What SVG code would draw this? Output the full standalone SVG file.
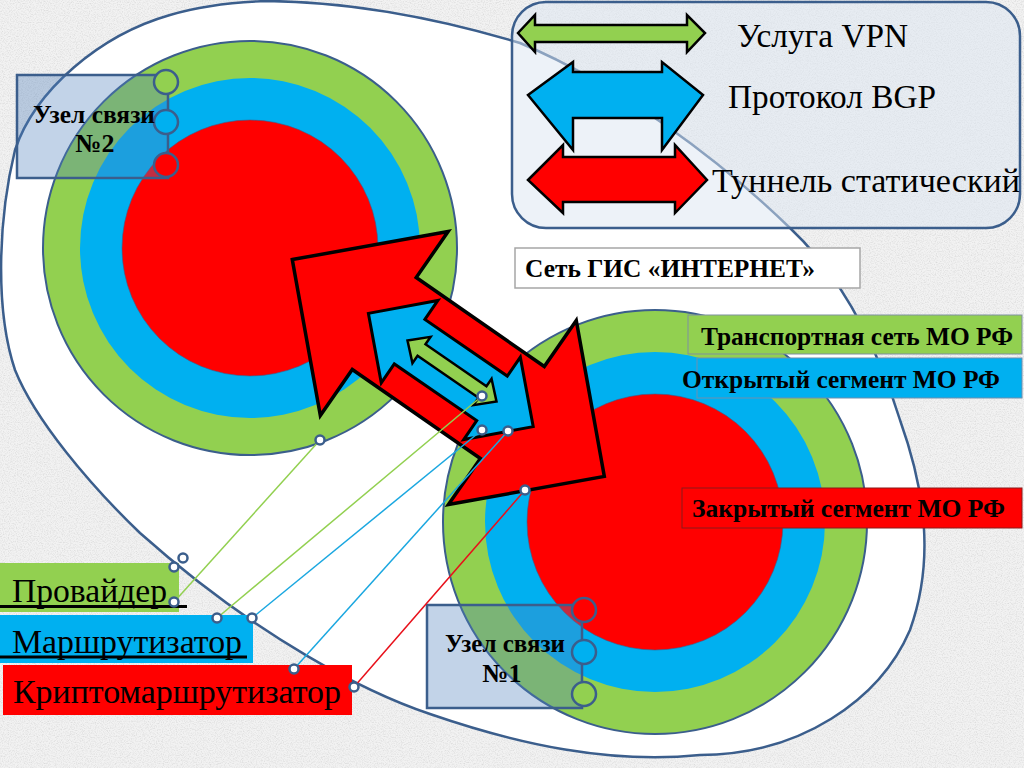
<svg xmlns="http://www.w3.org/2000/svg" width="1024" height="768" viewBox="0 0 1024 768">
<defs>
<filter id="grain" x="0" y="0" width="100%" height="100%">
<feTurbulence type="fractalNoise" baseFrequency="0.85" numOctaves="2" seed="7"/>
<feColorMatrix type="matrix" values="0.7 0 0 0 0.58  0.7 0 0 0 0.58  0.7 0 0 0 0.58  0 0 0 0 1"/>
</filter>
<style>
.t{font-family:'Liberation Serif','Times New Roman',serif;fill:#000}
.b{font-weight:bold}
.ol{stroke:#3b5e8c;stroke-width:2.5}
.arr{stroke:#000;stroke-linejoin:miter}
.dot{fill:#fff;stroke:#3b5e8c;stroke-width:2.5}
.conn{stroke-width:1.5;fill:none}
.g{fill:#92d050}.bl{fill:#00b0f0}.r{fill:#ff0000}
.node{fill:#4f81bd;fill-opacity:0.35;stroke:#3b5e8c;stroke-width:2.5}
</style>
</defs>
<rect x="0" y="0" width="1024" height="768" fill="#e4e4e4"/>
<rect x="0" y="0" width="1024" height="768" filter="url(#grain)" opacity="0.55"/>

<g id="zone">
<path d="M267,1 C360,2 450,22 520,43 C620,85 720,160 790,228 C840,275 875,340 900,420 C925,490 935,560 910,630 C880,700 800,755 700,755 C610,764 520,745 430,714 C370,694 260,640 140,533 C90,485 35,420 15,370 C-5,310 -2,220 15,150 C35,90 100,35 170,15 C200,6 235,2 267,1 Z" fill="#fff" class="ol" stroke-width="3"/>
</g>

<g id="segments-2">
<circle cx="250" cy="248" r="207" class="g" stroke="#3b5e8c" stroke-width="2"/>
<circle cx="250" cy="248" r="170" class="bl"/>
<circle cx="250" cy="248" r="128" class="r" stroke="#3b5e8c" stroke-width="1" stroke-opacity="0.6"/>
</g>
<g id="segments-1">
<circle cx="655" cy="522" r="212" class="g" stroke="#3b5e8c" stroke-width="2"/>
<circle cx="655" cy="522" r="170" class="bl"/>
<circle cx="655" cy="522" r="128" class="r" stroke="#3b5e8c" stroke-width="1" stroke-opacity="0.6"/>
</g>

<g id="uzel-2">
<rect x="17" y="75" width="151" height="103" class="node"/>
<circle cx="166" cy="82" r="12" class="g ol"/>
<circle cx="166" cy="122" r="12" class="bl ol"/>
<circle cx="166" cy="165" r="12" class="r ol"/>
<text x="94" y="123" class="t b" font-size="26" text-anchor="middle" textLength="122" lengthAdjust="spacingAndGlyphs">Узел связи</text>
<text x="95" y="152" class="t b" font-size="26" text-anchor="middle">№2</text>
</g>

<g id="uzel-1">
<rect x="427" y="605" width="155" height="103" class="node"/>
<circle cx="584" cy="610" r="12" class="r ol"/>
<circle cx="584" cy="652" r="12" class="bl ol"/>
<circle cx="584" cy="694" r="12" class="g ol"/>
<text x="505" y="652" class="t b" font-size="26" text-anchor="middle" textLength="120" lengthAdjust="spacingAndGlyphs">Узел связи</text>
<text x="502" y="682" class="t b" font-size="26" text-anchor="middle">№1</text>
</g>

<g id="legend">
<rect x="512" y="2" width="508" height="226" rx="34" fill="#dbe5f1" fill-opacity="0.5" class="ol"/>
<polygon points="518,33 535,15 535,25 687,25 687,15 705,33 687,52 687,42 535,42 535,52" class="g arr" stroke-width="2.5"/>
<polygon points="528,95 573,62 573,72 662,72 662,62 703,95 662,150 662,118 573,118 573,150" class="bl arr" stroke-width="2.5"/>
<polygon points="528,180 563,145 563,157 675,157 675,145 707,180 675,213 675,202 563,202 563,213" class="r arr" stroke-width="2.5"/>
<text x="737" y="47" class="t" font-size="34" textLength="171" lengthAdjust="spacingAndGlyphs">Услуга VPN</text>
<text x="728" y="108" class="t" font-size="34" textLength="208" lengthAdjust="spacingAndGlyphs">Протокол BGP</text>
<text x="712" y="192" class="t" font-size="34" textLength="308" lengthAdjust="spacingAndGlyphs">Туннель статический</text>
</g>

<g id="internet">
<rect x="515" y="248" width="345" height="40" fill="#fff" stroke="#a6a6a6" stroke-width="1.5"/>
<text x="525" y="277" class="t b" font-size="25" textLength="290" lengthAdjust="spacingAndGlyphs">Сеть ГИС «ИНТЕРНЕТ»</text>
</g>

<g id="transport">
<rect x="688" y="315" width="334" height="39" class="g" stroke="#7f8f9f" stroke-width="1"/>
<text x="701" y="345" class="t b" font-size="26" textLength="312" lengthAdjust="spacingAndGlyphs">Транспортная сеть МО РФ</text>
</g>
<g id="open-segment">
<rect x="697" y="358" width="325" height="40" class="bl" stroke="#6f8faf" stroke-width="1"/>
<text x="682" y="388" class="t b" font-size="26" textLength="318" lengthAdjust="spacingAndGlyphs">Открытый сегмент МО РФ</text>
</g>
<g id="closed-segment">
<rect x="682" y="488" width="340" height="40" class="r" stroke="#8a1a1a" stroke-width="1"/>
<text x="692" y="517" class="t b" font-size="26" textLength="313" lengthAdjust="spacingAndGlyphs">Закрытый сегмент МО РФ</text>
</g>

<g id="tunnels">
<polygon points="-190,0 -78,-112 -78,-56 78,-56 78,-112 190,0 78,112 78,56 -78,56 -78,112" transform="translate(448.3,368) rotate(34.8)" class="r arr" stroke-width="3.5"/>
<polygon points="-100,0 -50,-50 -50,-27 50,-27 50,-50 100,0 50,50 50,27 -50,27 -50,50" transform="translate(450.8,370) rotate(34.5)" class="bl arr" stroke-width="3"/>
<polygon points="-54,0 -37,-16 -37,-7 37,-7 37,-16 54,0 37,16 37,7 -37,7 -37,16" transform="translate(452,371) rotate(34.5)" class="g arr" stroke-width="2.5"/>
</g>

<g id="provider">
<rect x="0" y="563" width="179" height="49" class="g"/>
<text x="12" y="602" class="t" font-size="33" textLength="155" lengthAdjust="spacingAndGlyphs">Провайдер</text>
<line x1="0" y1="606.5" x2="187" y2="606.5" stroke="#000" stroke-width="3"/>
</g>
<g id="router">
<rect x="0" y="615" width="253" height="48" class="bl"/>
<text x="12" y="653" class="t" font-size="33" textLength="230" lengthAdjust="spacingAndGlyphs">Маршрутизатор</text>
<line x1="0" y1="657" x2="247" y2="657" stroke="#000" stroke-width="3"/>
</g>
<g id="crypto-router">
<rect x="3" y="665" width="349" height="50" class="r"/>
<text x="13" y="703" class="t" font-size="33" textLength="328" lengthAdjust="spacingAndGlyphs">Криптомаршрутизатор</text>
</g>

<g id="connectors">
<line x1="320" y1="440" x2="174" y2="602" stroke="#92d050" class="conn"/>
<line x1="482" y1="396" x2="217" y2="618" stroke="#92d050" class="conn"/>
<line x1="482" y1="430" x2="252" y2="618" stroke="#1aa7e0" class="conn"/>
<line x1="508" y1="431" x2="294" y2="669" stroke="#1aa7e0" class="conn"/>
<line x1="525" y1="490" x2="354" y2="687" stroke="#e8101a" class="conn"/>
<circle cx="320" cy="440" r="4.5" class="dot"/>
<circle cx="482" cy="396" r="4.5" class="dot"/>
<circle cx="482" cy="430" r="4.5" class="dot"/>
<circle cx="508" cy="431" r="4.5" class="dot"/>
<circle cx="525" cy="490" r="4.5" class="dot"/>
<circle cx="183" cy="558" r="4.5" class="dot"/>
<circle cx="174" cy="567" r="4.5" class="dot"/>
<circle cx="174" cy="602" r="4.5" class="dot"/>
<circle cx="217" cy="618" r="4.5" class="dot"/>
<circle cx="252" cy="618" r="4.5" class="dot"/>
<circle cx="294" cy="669" r="4.5" class="dot"/>
<circle cx="354" cy="687" r="4.5" class="dot"/>
</g>
</svg>
